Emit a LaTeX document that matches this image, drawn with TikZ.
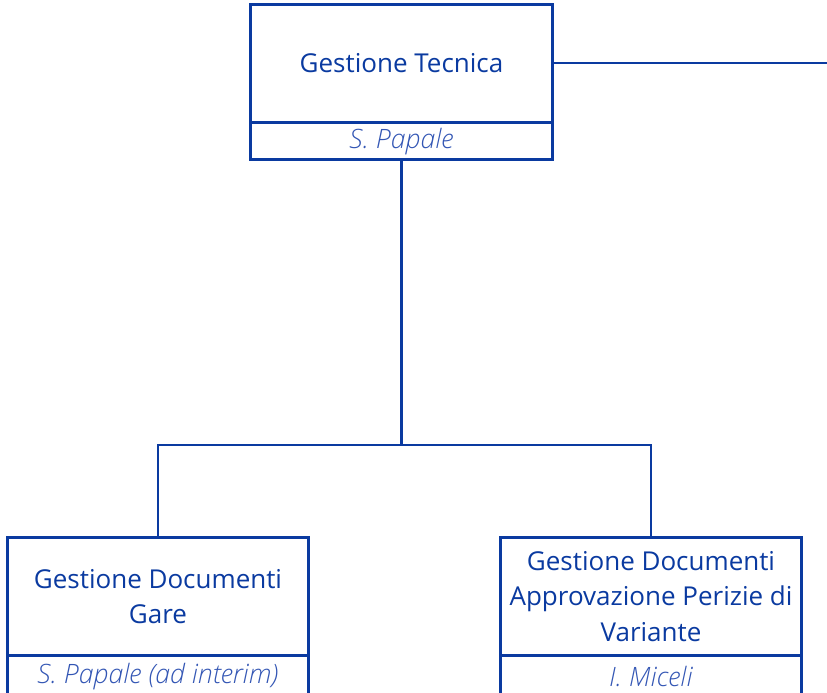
\documentclass[tikz,border=0pt]{standalone}
\usepackage{fontspec}
\setmainfont{Open Sans}
\newfontfamily\namefont{Open Sans Light Italic}
\usetikzlibrary{positioning,calc}
\definecolor{OrgBlue}{HTML}{0A3AA0}
\definecolor{OrgName}{HTML}{3356B4}

\begin{document}
\begin{tikzpicture}[
    x=0.75pt, y=-0.75pt,
    line width=1.9pt,
    unitbox/.style={
      draw=OrgBlue,
      rectangle,
      minimum width=301.5*0.75pt,
      minimum height=118.5*0.75pt,
      inner sep=0pt,
      outer sep=0pt,
      align=center,
      text=OrgBlue,
      font=\fontsize{19.5}{26.5}\selectfont
    },
    namebox/.style={
      draw=OrgBlue,
      rectangle,
      minimum width=301.5*0.75pt,
      minimum height=37*0.75pt,
      inner sep=0pt,
      outer sep=0pt,
      text=OrgName,
      font=\fontsize{20}{23}\namefont
    },
    link/.style={draw=OrgBlue}
  ]
    \useasboundingbox (0,0) rectangle (827,692);
    \clip (0,0) rectangle (827,692);

    % Top unit
    \node[unitbox] (tec) at (401.5,63.5) {Gestione Tecnica};
    \node[namebox,below=0pt of tec] (tecn) {S. Papale};

    % Bottom left unit
    \node[unitbox] (gare) at (158,596.5) {Gestione Documenti\\Gare};
    \node[namebox,minimum height=42*0.75pt,below=0pt of gare] (garen) {S. Papale (ad interim)};

    % Bottom right unit
    \node[unitbox] (vari) at (651,596.5) {Gestione Documenti\\Approvazione Perizie di\\Variante};
    \node[namebox,minimum height=42*0.75pt,below=0pt of vari] (varin) {I. Miceli};

    % Connectors
    \coordinate (split) at (401.5,445);
    \coordinate (edge) at (827,63);
    \draw[link] (tec.east |- edge) -- (edge);
    \draw[link] (tecn.south) -- (split);
    \draw[link] (gare.north) |- (split) -| (vari.north);
  \end{tikzpicture}
\end{document}
